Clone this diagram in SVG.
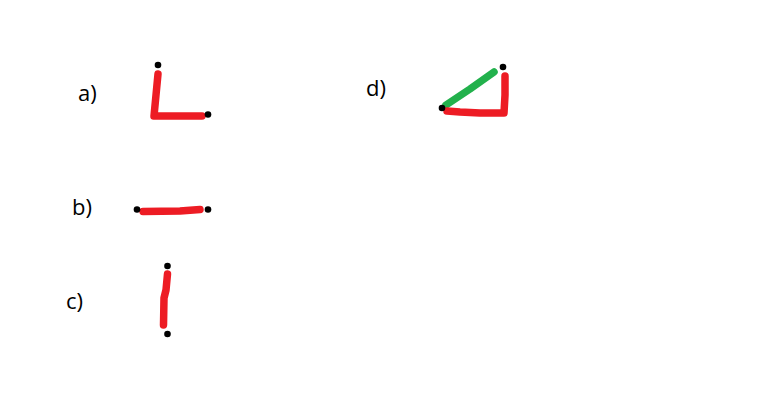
<svg xmlns="http://www.w3.org/2000/svg" width="773" height="418" viewBox="0 0 773 418">
<style>
.lbl{font-family:"Open Sans","Liberation Sans",sans-serif;font-size:22px;fill:#000}
.red{fill:none;stroke:#ed1c24;stroke-width:7.5;stroke-linecap:round;stroke-linejoin:round}
.green{fill:none;stroke:#22b14c;stroke-width:7.5;stroke-linecap:round;stroke-linejoin:round}
.dot{fill:#000}
</style>
<rect width="773" height="418" fill="#fff"/>
<g id="a">
<text class="lbl" x="78" y="101">a)</text>
<path class="red" d="M158,74 L156,95 L154,116 L202,116"/>
<circle class="dot" cx="158" cy="65" r="3.3"/>
<circle class="dot" cx="208" cy="114.5" r="3.3"/>
</g>
<g id="b">
<text class="lbl" x="72" y="215">b)</text>
<path class="red" d="M143,211.5 L180,211 L200,209.5"/>
<circle class="dot" cx="137" cy="209.5" r="3.3"/>
<circle class="dot" cx="208" cy="209.5" r="3.3"/>
</g>
<g id="c">
<text class="lbl" x="66" y="309">c)</text>
<path class="red" d="M167.5,274 L166,290 L164,298 L163.5,325"/>
<circle class="dot" cx="167.5" cy="266" r="3.3"/>
<circle class="dot" cx="167.5" cy="334" r="3.3"/>
</g>
<g id="d">
<text class="lbl" x="366" y="96">d)</text>
<path class="green" d="M446,105 L470,89 L494,72"/>
<path class="red" d="M505,76 L505,95 L504,113 L480,113 L460,112 L447,111"/>
<circle class="dot" cx="442" cy="108" r="3.3"/>
<circle class="dot" cx="503" cy="67" r="3.3"/>
</g>
</svg>
